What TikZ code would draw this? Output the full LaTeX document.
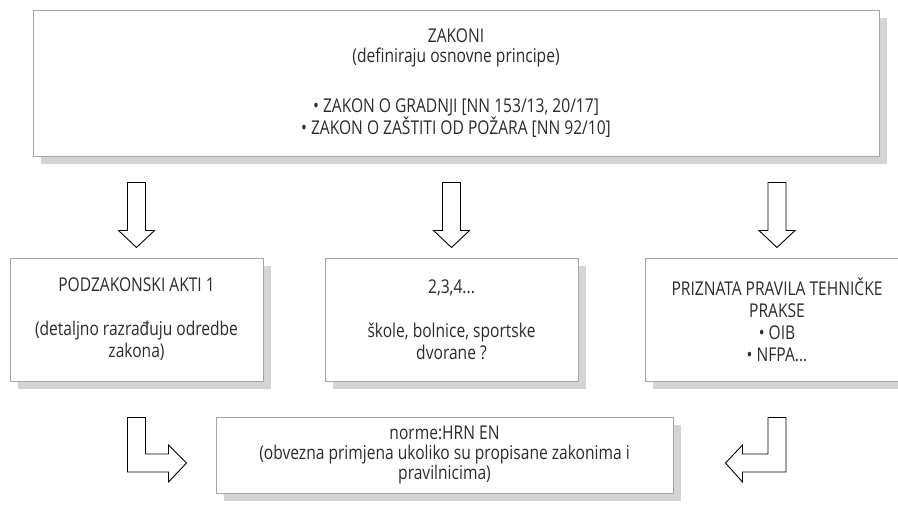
\documentclass[tikz,border=0pt]{standalone}
\usepackage{fontspec}
\setmainfont{Open Sans}[FakeStretch=0.82]
\usetikzlibrary{calc, shadows}

\definecolor{boxline}{HTML}{A6A6A6}
\definecolor{shadowgray}{HTML}{D4D4D4}
\definecolor{txt}{HTML}{2B2B2B}

\tikzset{
  lawbox/.style={draw=boxline, line width=1pt, fill=white, align=center,
    inner sep=0pt, text=txt, font=\fontsize{19}{22}\selectfont,
    drop shadow={shadow xshift=8pt, shadow yshift=-8pt, fill=shadowgray, opacity=1}},
  blockarrow/.style={draw=black, line width=0.9pt, fill=white, line join=miter}
}

\begin{document}
\begin{tikzpicture}[x=1pt, y=1pt]
  \useasboundingbox (0,0) rectangle (898,-504);

  % Draw the top box with the laws
  \node[lawbox, minimum width=846pt, minimum height=146pt,
        font=\fontsize{19}{20}\selectfont] (zakoni) at (456,-83)
    {ZAKONI\\(definiraju osnovne principe)\\[30pt]
     • ZAKON O GRADNJI [NN 153/13, 20/17]\\
     • ZAKON O ZAŠTITI OD POŽARA [NN 92/10]};

  % Draw the three middle boxes
  \node[lawbox, minimum width=253pt, minimum height=123pt] (podz) at (136.5,-319.5)
    {PODZAKONSKI AKTI 1\\[22pt](detaljno razrađuju odredbe\\zakona)};
  \node[lawbox, minimum width=253pt, minimum height=123pt] (skole) at (451.5,-319.5)
    {2,3,4...\\[22pt]škole, bolnice, sportske\\dvorane ?};
  \node[lawbox, minimum width=264pt, minimum height=123pt] (praksa) at (777,-319.5)
    {PRIZNATA PRAVILA TEHNIČKE\\PRAKSE\\• OIB\\• NFPA...};

  % Draw the bottom box with the norms
  \node[lawbox, minimum width=457pt, minimum height=76pt,
        font=\fontsize{19}{20}\selectfont] (norme) at (444.5,-455)
    {norme:HRN EN\\(obvezna primjena ukoliko su propisane zakonima i\\pravilnicima)};

  % Down arrows into the middle boxes
  \foreach \b in {podz, skole, praksa}
    \draw[blockarrow] ($(\b.north)+(0,10)$) -- ++(-18,17) -- ++(9,0) -- ++(0,48)
      -- ++(18,0) -- ++(0,-48) -- ++(9,0) -- cycle;

  % Bent arrows into the norms box
  \draw[blockarrow] ($(podz.south)+(-9,-36)$) |- ($(norme.west)+(-47,-17)$)
    -- ++(0,-10) -- ($(norme.west)+(-29,-8)$) -- ++(-18,18) -- ++(0,-9)
    -| ($(podz.south)+(9,-36)$) -- cycle;
  \draw[blockarrow] ($(praksa.south)+(9,-36)$) |- ($(norme.east)+(69,-17)$)
    -- ++(0,-10) -- ($(norme.east)+(52,-8)$) -- ++(17,18) -- ++(0,-9)
    -| ($(praksa.south)+(-9,-36)$) -- cycle;

\end{tikzpicture}
\end{document}
